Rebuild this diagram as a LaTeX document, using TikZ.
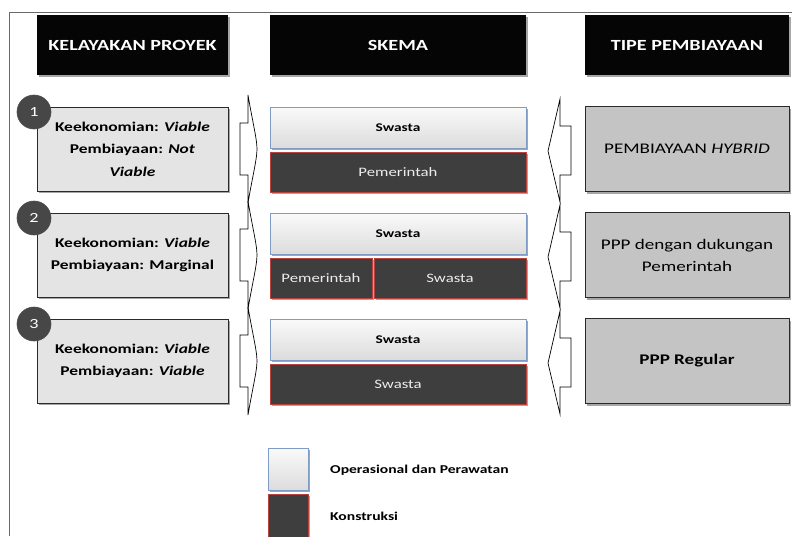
\documentclass[tikz,border=0pt]{standalone}
\usepackage{fontspec}
\setmainfont{Carlito}[FakeStretch=1.3]
\usetikzlibrary{shadows}

\definecolor{hdrfill}{HTML}{050505}
\definecolor{feasfill}{HTML}{E4E4E4}
\definecolor{typefill}{HTML}{C4C4C4}
\definecolor{boxline}{HTML}{2A2A2A}
\definecolor{opfill}{HTML}{DCDCDC}
\definecolor{opline}{HTML}{7E9CC6}
\definecolor{conline}{HTML}{B8423E}
\definecolor{confill}{HTML}{3E3E3E}
\definecolor{badge}{HTML}{474747}
\definecolor{frameline}{HTML}{6A6A6A}

\tikzset{
  softshadow/.style={drop shadow={shadow xshift=2pt, shadow yshift=-2pt, opacity=0.35, fill=black}},
  hdr/.style={draw=none, fill=hdrfill, text=white, font=\fontsize{15.5}{18}\selectfont\bfseries,
    minimum height=60pt, inner sep=0pt, softshadow},
  feas/.style={draw=boxline, line width=1pt, fill=feasfill, minimum width=191pt, minimum height=84pt,
    align=center, inner sep=0pt, font=\fontsize{13.4}{22.5}\selectfont\bfseries, softshadow},
  ftype/.style={draw=boxline, line width=1pt, fill=typefill, minimum width=204pt, minimum height=85pt,
    align=center, inner sep=0pt, font=\fontsize{14.7}{22}\selectfont, softshadow},
  opbar/.style={draw=opline, line width=0.8pt, top color=gray!4, bottom color=opfill,
    minimum height=41pt, inner sep=0pt, font=\fontsize{11.8}{14}\selectfont\bfseries, softshadow},
  conbar/.style={draw=conline, line width=0.8pt, fill=confill, text=gray!15,
    minimum height=40pt, inner sep=0pt, font=\fontsize{12.9}{15}\selectfont, softshadow},
  numbadge/.style={circle, fill=badge, draw=gray!60!black, line width=0.6pt, text=white,
    minimum size=34pt, inner sep=0pt, font=\fontsize{14}{16}\selectfont},
  blockarrow/.style={draw=black, line width=0.7pt, fill=white},
  legtext/.style={anchor=west, inner sep=0pt, font=\fontsize{12}{14}\selectfont\bfseries}
}

\begin{document}
\begin{tikzpicture}[x=1pt, y=-1pt]
  \useasboundingbox (0,0) rectangle (792,536);
  \fill[white] (0,0) rectangle (792,536);

  % outer frame (top and left edges)
  \draw[frameline, line width=0.8pt] (792,12) -- (9.5,12) -- (9.5,536);

  % column headers
  \node[hdr, minimum width=191pt] (hfeas)   at (132.5,45) {KELAYAKAN PROYEK};
  \node[hdr, minimum width=256pt] (hscheme) at (398,45)   {SKEMA};
  \node[hdr, minimum width=204pt] (htype)   at (687,45)   {TIPE PEMBIAYAAN};

  % row 1
  \node[feas] (feas1) at (132.5,149)
    {Keekonomian: \textit{Viable}\\Pembiayaan: \textit{Not}\\\textit{Viable}};
  \node[opbar, minimum width=256pt] (op1) at (398,127.5) {Swasta};
  \node[conbar, minimum width=256pt] (con1) at (398,172) {Pemerintah};
  \node[ftype] (type1) at (687,149) {PEMBIAYAAN \textit{HYBRID}};

  % row 2
  \node[feas] (feas2) at (132.5,255)
    {Keekonomian: \textit{Viable}\\Pembiayaan: Marginal};
  \node[opbar, minimum width=256pt] (op2) at (398,233.5) {Swasta};
  \node[conbar, minimum width=102pt] (con2a) at (321,278) {Pemerintah};
  \node[conbar, minimum width=152pt] (con2b) at (450,278) {Swasta};
  \node[ftype] (type2) at (687,255) {PPP dengan dukungan\\Pemerintah};

  % row 3
  \node[feas] (feas3) at (132.5,361)
    {Keekonomian: \textit{Viable}\\Pembiayaan: \textit{Viable}};
  \node[opbar, minimum width=256pt] (op3) at (398,339.5) {Swasta};
  \node[conbar, minimum width=256pt] (con3) at (398,384) {Swasta};
  \node[ftype] (type3) at (687,361) {\textbf{PPP Regular}};

  % numbered badges
  \foreach \i/\c in {1/149, 2/255, 3/361} {
    \node[numbadge] (badge\i) at (34,\c-37) {\i};
  }

  % block arrows between the columns
  \foreach \c in {149, 255, 361} {
    % feasibility -> scheme (tall, slightly curved head)
    \draw[blockarrow] (240,\c-26) -- (248,\c-26) -- (248,\c-54)
      .. controls (252,\c-30) and (257,\c-10) .. (257,\c)
      .. controls (257,\c+10) and (252,\c+30) .. (248,\c+54)
      -- (248,\c+26) -- (240,\c+26) -- cycle;
    % financing type -> scheme
    \draw[blockarrow] (571,\c-23) -- (560,\c-23) -- (560,\c-50)
      -- (548,\c+2) -- (560,\c+53) -- (560,\c+26) -- (571,\c+26) -- cycle;
  }

  % legend
  \node[opbar, minimum width=40pt, minimum height=42pt] (legop) at (288,469) {};
  \node[conbar, minimum width=40pt, minimum height=44pt] (legcon) at (288,516) {};
  \node[legtext] (legoptext) at (330,470) {Operasional dan Perawatan};
  \node[legtext] (legcontext) at (330,516) {Konstruksi};
\end{tikzpicture}
\end{document}
